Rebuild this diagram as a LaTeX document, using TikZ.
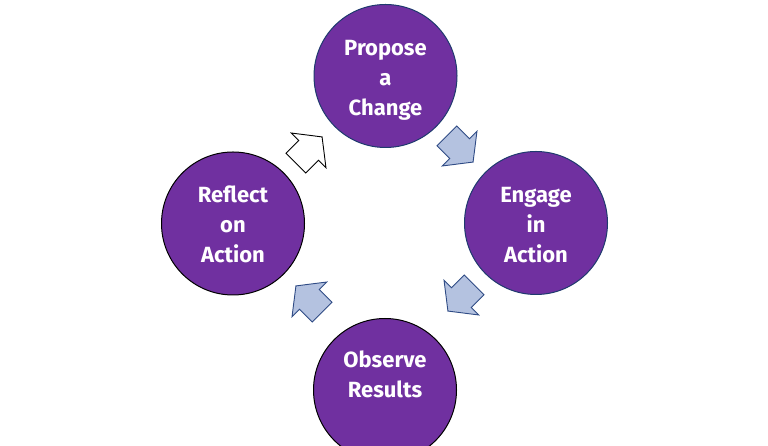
\documentclass[tikz,border=0pt]{standalone}
\usepackage{fontspec}
\setmainfont{Fira Sans}
\definecolor{cpurple}{HTML}{7030A0}
\definecolor{cnavy}{HTML}{1F3A6E}
\definecolor{cblue}{HTML}{B4C2E0}
\definecolor{carrowline}{HTML}{2F4B85}
\tikzset{
  stage/.style={circle, fill=cpurple, minimum size=143pt, inner sep=0pt, line width=1pt},
  stagetext/.style={text=white, align=center, font=\bfseries\fontsize{22}{30}\selectfont},
  bluearrow/.style={fill=cblue, draw=carrowline, line width=0.9pt, line join=miter},
  whitearrow/.style={fill=white, draw=black, line width=0.9pt, line join=miter},
}
\newcommand\cyclearrow[3]{%
  \draw[#3, shift={#1}, rotate=#2] (-18.5,-14) -- (-0.5,-14) -- (-0.5,-24.5) -- (18.5,0)
    -- (-0.5,24.5) -- (-0.5,14) -- (-18.5,14) -- cycle;}
\begin{document}
\begin{tikzpicture}[x=1pt,y=1pt]
\useasboundingbox (0,0) rectangle (768,446);
\clip (0,0) rectangle (768,446);
\fill[white] (0,0) rectangle (768,446);
\node[stage, draw=cnavy] (propose) at (385.5,370) {};
\node[stagetext] (proposet) at (385.5,366) {Propose\\a\\Change};
\node[stage, draw=cnavy] (engage) at (536,223) {};
\node[stagetext] (engaget) at (536,221) {Engage\\in\\Action};
\node[stage, draw=black] (observe) at (385,56) {};
\node[stagetext] (observet) at (385,71.5) {Observe\\Results};
\node[stage, draw=black] (reflect) at (233,222.5) {};
\node[stagetext] (reflectt) at (233,222) {Reflect\\on\\Action};
\coordinate (a1) at (309,296);
\coordinate (a2) at (460,297);
\coordinate (a3) at (461,148);
\coordinate (a4) at (309,147);
\cyclearrow{(a1)}{45}{whitearrow}
\cyclearrow{(a2)}{-45}{bluearrow}
\cyclearrow{(a3)}{-135}{bluearrow}
\cyclearrow{(a4)}{135}{bluearrow}
\end{tikzpicture}
\end{document}
